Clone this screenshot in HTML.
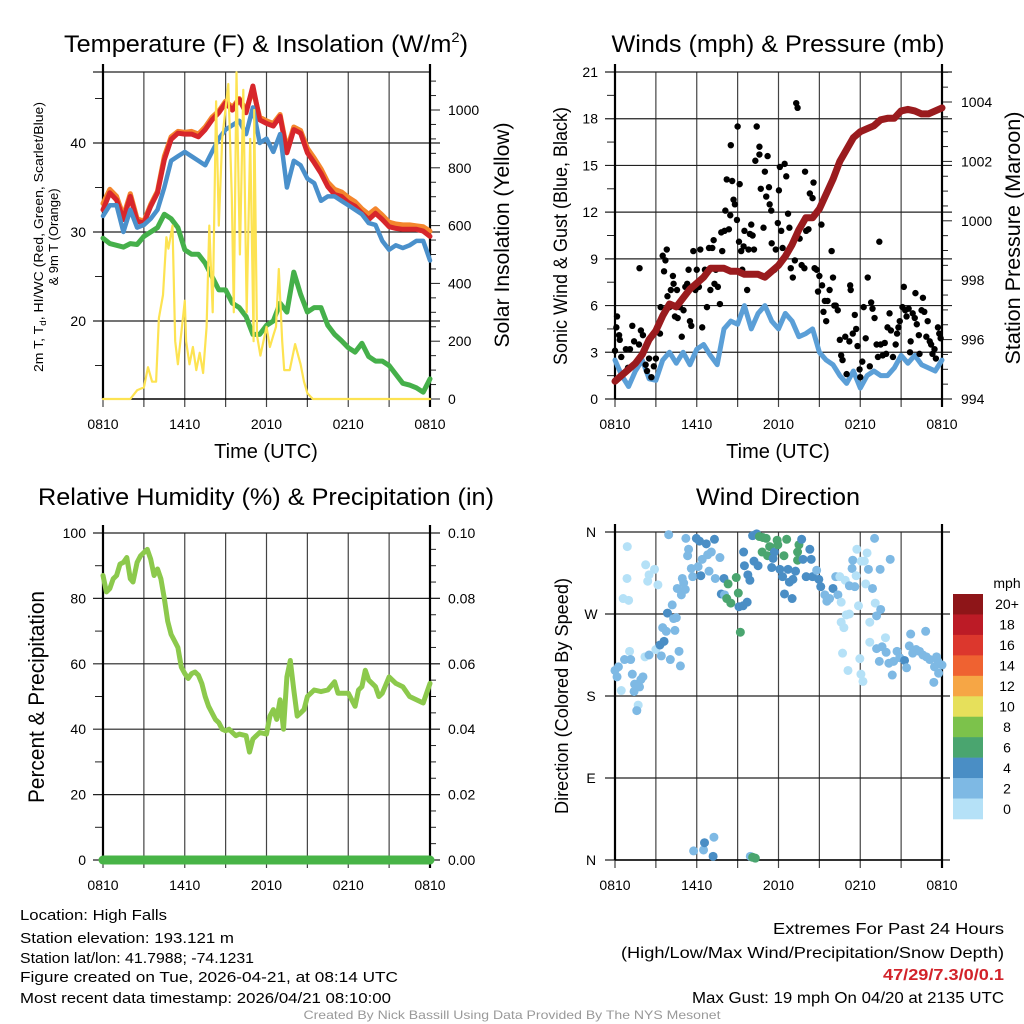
<!DOCTYPE html>
<html><head><meta charset="utf-8"><title>High Falls Mesonet</title>
<style>
html,body{margin:0;padding:0;background:#fff;}
svg{display:block;font-family:"Liberation Sans",Arial,sans-serif;}
</style></head>
<body>
<svg id="chart" width="1024" height="1024" viewBox="0 0 1024 1024" xmlns="http://www.w3.org/2000/svg">
<rect x="0" y="0" width="1024" height="1024" fill="#fff"/>
<g id="layer"></g>
<!-- titles -->
<text x="266" y="52" font-size="24" text-anchor="middle" textLength="404" lengthAdjust="spacingAndGlyphs">Temperature (F) &amp; Insolation (W/m<tspan font-size="14" dy="-10">2</tspan><tspan dy="10">)</tspan></text>
<text x="778" y="52" font-size="24" text-anchor="middle" textLength="333" lengthAdjust="spacingAndGlyphs">Winds (mph) &amp; Pressure (mb)</text>
<text x="266" y="505" font-size="24" text-anchor="middle" textLength="456" lengthAdjust="spacingAndGlyphs">Relative Humidity (%) &amp; Precipitation (in)</text>
<text x="778" y="505" font-size="24" text-anchor="middle" textLength="164" lengthAdjust="spacingAndGlyphs">Wind Direction</text>
<!-- axis titles -->
<text x="266" y="458" font-size="20" text-anchor="middle">Time (UTC)</text>
<text x="778" y="458" font-size="20" text-anchor="middle">Time (UTC)</text>
<text transform="translate(43,237) rotate(-90)" font-size="13" text-anchor="middle" textLength="270" lengthAdjust="spacingAndGlyphs">2m T, T<tspan font-size="9" dy="3">d</tspan><tspan dy="-3">, HI/WC (Red, Green, Scarlet/Blue)</tspan></text>
<text transform="translate(58,237) rotate(-90)" font-size="13" text-anchor="middle">&amp; 9m T (Orange)</text>
<text transform="translate(509,235) rotate(-90)" font-size="21" text-anchor="middle" textLength="225" lengthAdjust="spacingAndGlyphs">Solar Insolation (Yellow)</text>
<text transform="translate(567,236) rotate(-90)" font-size="19" text-anchor="middle" textLength="258" lengthAdjust="spacingAndGlyphs">Sonic Wind &amp; Gust (Blue, Black)</text>
<text transform="translate(1020,238) rotate(-90)" font-size="21" text-anchor="middle" textLength="253" lengthAdjust="spacingAndGlyphs">Station Pressure (Maroon)</text>
<text transform="translate(44,697) rotate(-90)" font-size="22" text-anchor="middle" textLength="212" lengthAdjust="spacingAndGlyphs">Percent &amp; Precipitation</text>
<text transform="translate(568,696) rotate(-90)" font-size="18" text-anchor="middle" textLength="236" lengthAdjust="spacingAndGlyphs">Direction (Colored By Speed)</text>
<!-- footer -->
<g font-size="15">
<text x="20" y="920" textLength="147" lengthAdjust="spacingAndGlyphs">Location: High Falls</text>
<text x="20" y="943" textLength="214" lengthAdjust="spacingAndGlyphs">Station elevation: 193.121 m</text>
<text x="20" y="963" textLength="234" lengthAdjust="spacingAndGlyphs">Station lat/lon: 41.7988; -74.1231</text>
<text x="20" y="982" textLength="378" lengthAdjust="spacingAndGlyphs">Figure created on Tue, 2026-04-21, at 08:14 UTC</text>
<text x="20" y="1003" textLength="371" lengthAdjust="spacingAndGlyphs">Most recent data timestamp: 2026/04/21 08:10:00</text>
</g>
<g font-size="16" text-anchor="end">
<text x="1004" y="934" textLength="231" lengthAdjust="spacingAndGlyphs">Extremes For Past 24 Hours</text>
<text x="1004" y="958" textLength="383" lengthAdjust="spacingAndGlyphs">(High/Low/Max Wind/Precipitation/Snow Depth)</text>
<text x="1004" y="980" fill="#d2232a" font-weight="bold" textLength="121" lengthAdjust="spacingAndGlyphs">47/29/7.3/0/0.1</text>
<text x="1004" y="1003" textLength="312" lengthAdjust="spacingAndGlyphs">Max Gust: 19 mph On 04/20 at 2135 UTC</text>
</g>
<text x="512" y="1019" font-size="12" fill="#999" text-anchor="middle" textLength="417" lengthAdjust="spacingAndGlyphs">Created By Nick Bassill Using Data Provided By The NYS Mesonet</text>
</svg>
<script>
// ---------- DATA ----------
const xTickLabels = ["0810","1410","2010","0210","0810"];
const tHours = [0,0.5,1,1.5,2,2.5,3,3.5,4,4.5,5,5.5,6,6.5,7,7.5,8,8.5,9,9.5,10,10.5,11,11.5,12,12.5,13,13.5,14,14.5,15,15.5,16,16.5,17,17.5,18,18.5,19,19.5,20,20.5,21,21.5,22,22.5,23,23.5,24];
const tempRed = [32.5,34.4,33.6,31.4,34,31.2,31,32.9,34.4,38.1,40.4,41.1,41,41,40.7,41.5,42.6,43.4,44.5,43.7,44.9,43.4,46.4,42.6,42.2,41.9,43,38.9,41.5,41.1,38.9,37.8,36.6,35.1,34.2,34,33.3,32.9,32.1,31.4,32.1,31.4,30.6,30.4,30.3,30.3,30.3,30.1,29.5];
const tempOrange = [33.2,34.8,34,31.8,34.3,31.5,31.2,33.1,34.6,38.5,40.7,41.3,41.2,41.3,41,41.8,42.9,43.6,44.7,44,45,43.7,46,42.9,42.5,42.2,43.2,39.3,41.8,41.4,39.4,38.3,37.1,35.6,34.8,34.5,33.9,33.4,32.6,32,32.6,31.9,31.1,30.9,30.8,30.8,30.7,30.6,30.1];
const tempBlue = [31.8,33,33,30,32.5,30.5,30.8,31.5,32.5,35,38,38.5,39,38.5,38,37.5,39,40.5,41.5,42,42.5,41,44,40,40.5,39,41,35,38,37.5,36,35.5,33.5,34,34,33.5,33,32.5,32,31,30.8,29,28,28.5,28.2,28.5,29,29,26.8];
const dewGreen = [29.3,28.7,28.5,28.3,28.7,28.6,29.5,30,30.5,32,31.5,30.5,28,27.5,27.5,26.5,25,23.5,23.5,22,21.5,20.5,18.5,18.5,19.5,20,22,21,25.5,23,21,21.5,21.5,19.5,18.5,17.8,17,16.5,17.5,16,15.5,15.5,15,14,13,12.8,12.5,12,13.5];
const solarHours = [0,2,2.5,3,3.3,3.6,3.9,4.1,4.4,4.65,4.8,5.1,5.3,5.5,6,6.1,6.35,6.6,6.85,7.1,7.35,7.6,7.8,8.05,8.3,8.5,8.75,9.2,9.45,9.6,9.8,10.05,10.3,10.55,10.8,11.05,11.1,11.3,11.55,12,12.25,12.5,12.7,12.9,13.15,13.3,13.7,14.1,14.5,14.75,15,15.4,24];
const solarValues = [0,0,30,40,110,60,60,280,360,560,520,600,200,120,340,200,120,180,100,160,90,250,600,300,1030,600,900,1090,700,300,1130,500,1070,300,900,200,1000,220,150,250,180,220,250,450,200,100,100,190,120,60,20,0,0];
const windHours = tHours;
const windSpeed = [2.5,1.5,0.8,1.8,2.5,1.3,1.2,2.5,3,2.3,3,2.2,3.2,3.5,2.8,2.2,4.5,5,4.8,6,4.5,5.5,6,5,4.5,5.5,5,4,4.2,4.5,3,2.5,2.2,1.5,1,1.8,0.7,1.5,1.8,1.5,1.5,2,2.8,2.3,2.8,2.2,2,1.8,2.5];
const pressure = [994.6,994.8,995,995.2,995.5,996,996.3,996.8,997.2,997.1,997.4,997.7,997.9,998.1,998.4,998.4,998.4,998.3,998.3,998.2,998.2,998.2,998.1,998.3,998.5,998.8,999.2,999.7,1000.1,1000.1,1000.4,1000.9,1001.4,1002,1002.4,1002.8,1003,1003.1,1003.2,1003.4,1003.45,1003.45,1003.7,1003.75,1003.7,1003.6,1003.6,1003.7,1003.8];
const gustHours = [0,0.1,0.15,0.3,0.35,0.46,0.8,0.95,1.1,1.27,1.4,1.76,1.8,1.9,2.05,2.25,2.35,2.5,2.67,2.85,3,3.3,3.35,3.5,3.6,3.7,3.8,3.85,4,4.1,4.25,4.3,4.4,4.55,4.6,4.75,4.9,5.03,5.16,5.3,5.4,5.5,5.6,5.75,5.9,6,6.16,6.26,6.4,6.6,6.75,6.9,7,7.14,7.24,7.3,7.4,7.55,7.7,7.8,7.87,8.04,8.1,8.2,8.36,8.46,8.5,8.6,8.7,8.8,8.95,9,9.15,9.1,9.26,9.34,9.44,9.5,9.7,9.8,9.9,10,10.1,10.2,10.3,10.4,10.6,10.6,10.7,10.9,11,11.1,11.2,11.3,11.35,11.47,11.5,11.7,11.8,11.95,12.03,12.1,12.2,12.3,12.45,12.57,12.7,12.8,12.9,13.05,13.2,13.3,13.4,13.55,13.7,13.9,13.95,14.03,14.2,14.3,14.5,14.57,14.65,14.8,14.9,15,15.15,15.2,15.3,15.4,15.5,15.6,15.75,15.9,16,16.1,16.2,16.35,16.5,16.6,16.7,16.9,17,17.2,17.26,17.3,17.45,17.6,17.7,17.8,17.95,18,18.15,18.25,18.4,18.55,18.7,18.8,18.9,19.05,19.2,19.3,19.4,19.5,19.65,19.8,19.9,20,20.15,20.25,20.4,20.6,20.7,20.8,20.9,21.1,21.2,21.3,21.4,21.55,21.65,21.7,21.85,22,22.05,22.15,22.3,22.35,22.5,22.6,22.7,22.85,22.95,23.1,23.2,23.3,23.45,23.55,23.7,23.8,23.9];
const gustValues = [3.1,4.6,5.3,4.1,3.8,2.7,3.2,2,3.2,4.7,3.7,3.5,8.4,4.4,4.1,2.2,1.8,2.6,1.4,2.1,2.6,4.2,5.9,9.2,8.2,8.9,9.6,6.6,5.9,7,7.9,7.4,5.3,7,5.2,5.9,4,5.7,7.2,7.4,8.3,5,4.7,9.5,7,8.3,7.2,9.6,4.6,8.3,5.9,9.7,7,9.7,10.2,7.4,8.3,7.2,6.1,10.7,9.5,10.8,12.1,14.1,10.9,11.8,16.3,14,12.8,12.5,11.5,17.5,13.8,10.1,9.5,8.3,9.8,10.8,7,9.6,10.6,11.2,10.5,9.6,15.3,17.5,16.2,15.7,13.5,11,14.6,13,15.6,13.6,12.5,12.1,10,8.3,9.6,11.3,13.4,14.9,10.8,9.7,15.1,14.3,11.9,11,8.4,7.8,8.9,19,18.7,10.3,8.6,8.4,14.6,10.8,10.9,13.2,12.9,13.9,8.4,8.3,6.9,7.9,11.2,7.3,5.6,6.3,5,6.3,7,9.5,7.8,6,6,5.7,3.8,2.8,2.5,4,1.6,3.7,7.3,7,4.2,5.4,4.5,3.4,1.9,1.4,2.4,5.9,3.9,7.8,2.1,6.2,5.8,5.2,3.5,2.7,10.1,3.5,2.8,3.6,2.9,4.6,5.5,4.4,2.7,3.5,4.2,4.6,5,5.9,7.2,5.7,5.3,5.8,3,3.7,5.5,5.2,6.8,4.8,4.1,2.9,5.7,6.5,5.6,4,5,3.7,3.5,2.9,3.2,2.6,4.6,4.2,3.9];
const rhHours = [0,0.25,0.5,0.75,1,1.25,1.5,1.75,2,2.2,2.5,2.75,3,3.25,3.5,3.75,4,4.25,4.5,4.75,5,5.25,5.5,5.75,6,6.25,6.5,6.75,7,7.25,7.5,7.75,8,8.25,8.5,8.75,9,9.25,9.5,9.75,10,10.5,10.75,11,11.5,12,12.25,12.5,12.75,13,13.25,13.5,13.75,14,14.25,14.5,14.75,15,15.5,16,16.5,17,17.25,17.5,18,18.5,18.75,19,19.25,19.5,20,20.25,20.5,21,21.5,22,22.5,23,23.5,23.75,24];
const rhValues = [87,82,83,86,87,90.5,91,92.5,86,85,91,93,94,95,92,87,89,86,80,73,69,67,65,59,57,55.5,57,57.5,56.5,54,50,47,45,43,42,40,39.5,40,39,38,38.5,38,33,37,39,38.5,44,46,43,49,40,56,61,52,44,45,46,50,52,51.5,52,54.5,51,51,51,47,52,53,58,55,53,50,51,56,54,53,50,49,48,51,54];
const precipHours = [0,24];
const precipValues = [0,0];
const wdHours = [0.9,0.88,0.6,1.0,2.25,2.5,2.9,3.15,2.4,0,0.25,0.15,0.46,0.7,1.07,1.15,1.27,1.4,1.44,1.7,1.6,1.8,1.9,2.05,2.2,2.5,3,3.3,3.4,3.6,3.85,3.5,3.76,4.06,4.2,4.3,4.4,4.5,4.7,4.8,4.57,4.87,4.94,5.04,5.16,3.94,5.2,5.4,5.33,5.6,5.7,5.97,6.1,6.2,6.3,6.4,6.7,6.8,6.9,7.07,7.3,7.36,7.7,8,7.8,8.04,8.2,8.3,8.5,8.9,9.05,9.1,9.4,9.7,9.2,9.44,9.5,9.75,9.9,10.2,10.5,10.1,10.4,10.6,10.85,11.1,10.8,11.2,11.35,11.5,11.6,11.7,11.9,11.95,12.1,12.3,12.4,12.6,12.7,12.8,12.44,13,13.25,13.06,13.5,13.4,13.4,13.7,13.8,14.03,14.3,14.4,14.5,14.8,14.96,15.1,15.4,15.55,15.75,16,16.2,16.36,16.5,16.6,16.6,16.8,16.97,17.2,16.9,17.2,17.45,17.4,17.6,17.7,17.75,17.87,18.07,18.3,18.5,18.4,18.6,19.05,18.9,19.1,19.2,19.46,19.5,20.2,18.7,18.7,19.85,16.7,17.1,17.97,18.05,18.2,19.2,19.4,19.6,19.9,20.1,20.35,20.45,20.7,20.9,21.25,21.4,21.6,21.7,21.85,22.1,22.35,22.6,22.8,22.85,23.1,23.4,23.45,23.6,23.75,24,23.7,5.77,6.5,6.57,7.2,7.26,9.93,10.1,10.3];
const wdDirs = [344,309,287,285,324,313,319,302,306,208,212,201,186,220,229,220,204,185,193,170,164,190,198,201,223,225,231,236,224,240,271,255,251,220,280,265,252,266,229,213,298,291,309,304,297,357,353,341,334,320,311,353,322,350,312,330,347,335,317,338,352,309,332,309,292,291,287,303,282,310,293,278,279,283,250,338,323,313,307,328,323,356,358,355,354,353,338,334,344,321,331,338,351,346,319,311,334,352,319,305,292,287,317,308,346,338,329,352,330,311,341,330,311,318,308,300,291,284,287,298,311,291,311,283,261,255,269,270,307,301,329,320,300,312,341,279,328,328,337,303,319,353,298,282,268,319,275,330,261,239,244,227,208,221,204,196,232,218,234,228,216,203,218,229,222,219,211,235,248,227,231,229,225,251,223,220,195,212,223,205,214,218,10,11,19,4,25,4,3,2];
const wdSpeeds = [1,1,1,1,1,1,1,1,1,3,3,3,1,3,1,3,3,3,3,1,3,3,3,3,1,3,1,5,3,5,5,3,3,3,3,3,3,3,3,3,3,3,3,3,3,3,3,3,3,3,3,5,3,5,5,3,5,3,3,3,5,3,3,5,5,3,7,7,7,7,7,5,5,5,7,5,5,5,5,5,5,5,5,7,7,7,7,7,7,5,5,5,7,7,5,5,7,7,5,5,5,5,5,5,7,7,7,5,5,5,5,5,5,3,5,5,3,3,3,5,3,3,1,1,1,1,1,1,1,3,3,3,3,1,1,1,1,1,1,1,3,3,3,1,3,3,3,3,1,1,1,1,1,1,1,1,3,3,3,3,3,3,3,3,3,5,3,3,3,3,3,3,3,3,3,3,3,3,3,3,3,3,3,3,5,5,3,3,7,7,7,7];
const cbLabels = ["20+","18","16","14","12","10","8","6","4","2","0"];
const cbColors = ["#8e1518","#bc1b26","#dc372d","#ef6231","#f6a645","#e6e05b","#7cc24b","#4aa56f","#4a8ec5","#7eb9e4","#b5e1f7"];
const cbMins = [20,18,16,14,12,10,8,6,4,2,0];

// ---------- HELPERS ----------
const NS = "http://www.w3.org/2000/svg";
const layer = document.getElementById("layer");
function mk(tag, attrs, parent){const e=document.createElementNS(NS,tag);for(const k in attrs)e.setAttribute(k,attrs[k]);(parent||layer).appendChild(e);return e;}
function scaleX(x0){return h=>x0+h*327/24;}
const xL = scaleX(103), xR = scaleX(615);
const yTemp = t => 232-(t-30)*8.9;
const ySolar = s => 399-s*0.289;
const yWind = v => 399-v*327/21;
const yPres = p => 399-(p-994)*29.7;
const yRH = r => 860-r*3.27;
const yPrecip = p => 860-p*3270;
const yDir = d => 860-d*328/360;

function panel(name,x0,yTop,yBot){
  const g = mk("g",{});
  
  
  for(let k=0;k<=8;k++){
    const x=x0+k*327/8;
    const ln=mk("line",{x1:x,x2:x,y1:yTop,y2:yBot+8,stroke:"#444","stroke-width":1.2},g);
    
    
  }
  for(let k=0;k<5;k++){
    const t=mk("text",{x:x0+k*327/4,y:yBot+30,"font-size":14,"text-anchor":"middle"},g);
    
    
    t.textContent=xTickLabels[k];
  }
  return g;
}
function hline(g,x0,y,leftLabel,rightLabel,lx,rx){
  const ln=mk("line",{x1:x0-10,x2:x0+327+(rightLabel!==null?10:0),y1:y,y2:y,stroke:"#222","stroke-width":1.2},g);
  
  
  if(leftLabel!==null){
    const t=mk("text",{x:lx,y:y+5,"font-size":14,"text-anchor":"end"},g);
    
    
    t.textContent=leftLabel;
  }
}
function tick(g,x,y,len,cls){
  const ln=mk("line",{x1:x,x2:x+len,y1:y,y2:y,stroke:"#222","stroke-width":1},g);
  
  
}
function rlabel(g,x,y,txt){
  const t=mk("text",{x:x,y:y+5,"font-size":14},g);
  
  
  t.textContent=txt;
}
function border(g,x0,yTop,yBot){
  const a=mk("line",{x1:x0,x2:x0,y1:yTop-8,y2:yBot,stroke:"#000","stroke-width":2.2},g);
  
  
  const b=mk("line",{x1:x0+327,x2:x0+327,y1:yTop-8,y2:yBot+8,stroke:"#000","stroke-width":2.2},g);
  
  
  const c=mk("line",{x1:x0,x2:x0+327,y1:yBot,y2:yBot,stroke:"#000","stroke-width":1.6},g);
  
  
}
function path(xs,ys,xf,yf,color,w,name){
  let d="";
  for(let i=0;i<xs.length;i++){d+=(i?"L":"M")+xf(xs[i]).toFixed(1)+","+yf(ys[i]).toFixed(1);}
  const p=mk("path",{d:d,fill:"none",stroke:color,"stroke-width":w,"stroke-linejoin":"round","stroke-linecap":"round"});
  
  
  return p;
}

// ---------- PANEL 1: Temperature ----------
let g1=panel("temperature",103,72,399);
[20,30,40].forEach(v=>hline(g1,103,yTemp(v),String(v),0,86));
[15,25,35,45].forEach(v=>tick(g1,95,yTemp(v),8,"temperature-minor-tick"));
for(let s=0;s<=1100;s+=50){const y=ySolar(s);tick(g1,430,y,s%200===0?10:6,"solar-tick");if(s%200===0)rlabel(g1,448,y,String(s));}
hline(g1,103,72,null,null,0,0);
border(g1,103,72,399);
path(tHours,tempOrange,xL,yTemp,"#f4862d",5,"9m-temperature-line");
path(tHours,tempRed,xL,yTemp,"#d7262b",5,"2m-temperature-line");
path(tHours,tempBlue,xL,yTemp,"#4a90cb",4.5,"wind-chill-line");
path(tHours,dewGreen,xL,yTemp,"#45b04a",5,"dewpoint-line");
path(solarHours,solarValues.map(v=>Math.min(v,1131)),xL,ySolar,"#fde352",2.2,"solar-insolation-line");

// ---------- PANEL 2: Winds ----------
let g2=panel("winds",615,72,399);
[0,3,6,9,12,15,18,21].forEach(v=>hline(g2,615,yWind(v),String(v),0,598));
[1.5,4.5,7.5,10.5,13.5,16.5,19.5].forEach(v=>tick(g2,607,yWind(v),8,"wind-minor-tick"));
for(let p=994;p<=1005;p+=0.5){const y=yPres(p);const maj=Math.abs(p%2)<0.01;tick(g2,942,y,maj?10:6,"pressure-tick");if(maj)rlabel(g2,961,y,String(p));}
border(g2,615,72,399);
path(windHours,windSpeed,xR,yWind,"#5b9fd7",5,"sustained-wind-line");
for(let i=0;i<gustHours.length;i++){
  const c=mk("circle",{cx:xR(gustHours[i]),cy:yWind(gustValues[i]),r:3.2,fill:"#000"});
  
  
}
path(windHours,pressure,xR,yPres,"#9a1b1e",7,"pressure-line");

// ---------- PANEL 3: RH ----------
let g3=panel("humidity",103,533,860);
[0,20,40,60,80,100].forEach(v=>hline(g3,103,yRH(v),String(v),0,86));
[10,30,50,70,90].forEach(v=>tick(g3,95,yRH(v),8,"humidity-minor-tick"));
for(let p=0;p<=0.1001;p+=0.005){const y=yPrecip(p);const maj=Math.round(p*1000)%20===0;tick(g3,430,y,maj?10:6,"precip-tick");if(maj)rlabel(g3,448,y,p.toFixed(2));}
border(g3,103,533,860);
path(rhHours,rhValues,xL,yRH,"#8cc94c",5,"relative-humidity-line");
path(precipHours,precipValues,xL,yPrecip,"#48b447",9,"precipitation-line");

// ---------- PANEL 4: Wind direction ----------
let g4=panel("wind-direction",615,532,860);
const dirLabels=["N","E","S","W","N"];
[0,90,180,270,360].forEach((v,i)=>{
  const y=yDir(v);
  const ln=mk("line",{x1:605,x2:950,y1:y,y2:y,stroke:"#222","stroke-width":1.2},g4);
  
  
  const t=mk("text",{x:591,y:y+5,"font-size":14,"text-anchor":"middle"},g4);
  
  
  t.textContent=dirLabels[i];
});
border(g4,615,532,860);
function speedColor(s){for(let i=0;i<cbMins.length;i++){if(s>=cbMins[i])return cbColors[i];}return cbColors[cbColors.length-1];}
for(let i=0;i<wdHours.length;i++){
  const c=mk("circle",{cx:xR(wdHours[i]),cy:yDir(wdDirs[i]),r:4.5,fill:speedColor(wdSpeeds[i])});
  
  
}
// colorbar
const cb=mk("g",{});


const bh=(819-594)/cbLabels.length;
for(let i=0;i<cbLabels.length;i++){
  const r=mk("rect",{x:953,y:594+i*bh,width:30,height:bh+0.3,fill:cbColors[i]},cb);
  
  
  const t=mk("text",{x:1007,y:594+i*bh+bh/2+5,"font-size":14,"text-anchor":"middle"},cb);
  
  
  t.textContent=cbLabels[i];
}
const mph=mk("text",{x:1007,y:588,"font-size":14,"text-anchor":"middle"},cb);


mph.textContent="mph";
</script>
</body></html>
